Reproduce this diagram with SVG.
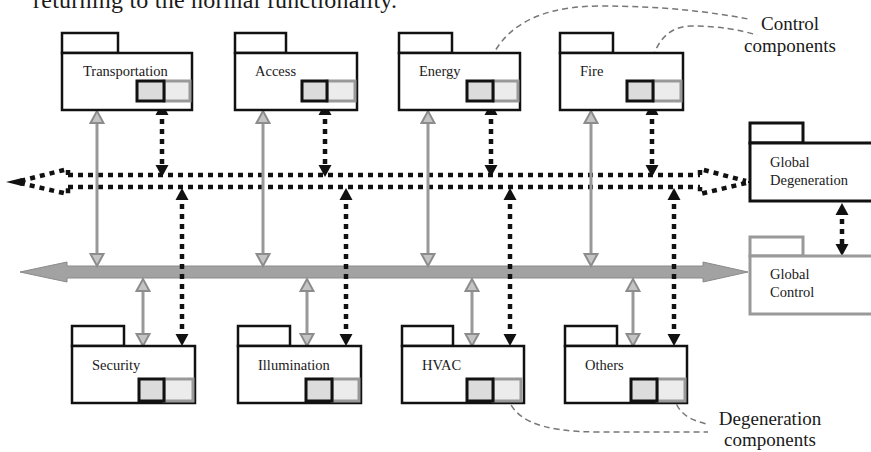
<svg xmlns="http://www.w3.org/2000/svg" width="871" height="452" viewBox="0 0 871 452">
<style>
text{font-family:"Liberation Serif","Times New Roman",serif;fill:#1a1a1a}
.lbl{font-size:14.5px}
.note{font-size:19px}
.tab,.body{fill:#fff;stroke:#111;stroke-width:2.5}
.dk{fill:#dcdcdc;stroke:#111;stroke-width:3}
.gr{fill:#ececec;stroke:#999;stroke-width:3}
.gtab,.gbody{fill:#fff;stroke:#999;stroke-width:3}
.dot{fill:none;stroke:#111;stroke-width:4.5;stroke-dasharray:5 5}
.garr{fill:none;stroke:#999;stroke-width:3}
.lead{fill:none;stroke:#777;stroke-width:1.5;stroke-dasharray:6 4}
</style>
<defs>
<marker id="bh" markerUnits="userSpaceOnUse" markerWidth="14" markerHeight="14" refX="6" refY="6.5" orient="auto-start-reverse" viewBox="0 0 14 13">
<path d="M0,0 L12,6.5 L0,13 Z" fill="#111"/>
</marker>
<marker id="gh" markerUnits="userSpaceOnUse" markerWidth="16" markerHeight="16" refX="1" refY="6.5" orient="auto-start-reverse" viewBox="-1 -1 16 15">
<path d="M0,0 L12,6.5 L0,13 Z" fill="#c4c4c4" stroke="#8c8c8c" stroke-width="2"/>
</marker>
</defs>

<text x="33" y="8" font-size="24" textLength="364">returning to the normal functionality.</text>

<g id="buses">
<path id="gray-bus" d="M20,272 L67,262 L67,266 L703,266 L703,262 L748,272 L703,282 L703,278 L67,278 L67,282 Z" fill="#a2a2a2" stroke="#8a8a8a" stroke-width="1"/>
<g id="dashed-bus">
<line class="dot" x1="68" y1="175" x2="700" y2="175"/>
<line class="dot" x1="68" y1="187" x2="700" y2="187"/>
<path class="dot" d="M68,175 L68,169 L20,181"/>
<path class="dot" d="M20,183 L68,194 L68,187"/>
<polygon points="6,182 22,178 22,186" fill="#111"/>
<path class="dot" d="M700,175 L700,169 L746,181"/>
<path class="dot" d="M746,183 L700,194 L700,187"/>
<line x1="748" y1="182" x2="762" y2="182" stroke="#111" stroke-width="2"/>
</g>
</g>

<g id="connectors">
<line class="garr" x1="97" y1="122" x2="97" y2="255" marker-start="url(#gh)" marker-end="url(#gh)"/>
<line class="garr" x1="263" y1="122" x2="263" y2="255" marker-start="url(#gh)" marker-end="url(#gh)"/>
<line class="garr" x1="428" y1="122" x2="428" y2="255" marker-start="url(#gh)" marker-end="url(#gh)"/>
<line class="garr" x1="591" y1="122" x2="591" y2="255" marker-start="url(#gh)" marker-end="url(#gh)"/>
<line class="garr" x1="143" y1="290" x2="143" y2="335" marker-start="url(#gh)" marker-end="url(#gh)"/>
<line class="garr" x1="307" y1="290" x2="307" y2="335" marker-start="url(#gh)" marker-end="url(#gh)"/>
<line class="garr" x1="472" y1="290" x2="472" y2="335" marker-start="url(#gh)" marker-end="url(#gh)"/>
<line class="garr" x1="633" y1="290" x2="633" y2="335" marker-start="url(#gh)" marker-end="url(#gh)"/>

<line class="dot" x1="162" y1="109" x2="162" y2="171" marker-start="url(#bh)" marker-end="url(#bh)"/>
<line class="dot" x1="325" y1="109" x2="325" y2="171" marker-start="url(#bh)" marker-end="url(#bh)"/>
<line class="dot" x1="491" y1="109" x2="491" y2="171" marker-start="url(#bh)" marker-end="url(#bh)"/>
<line class="dot" x1="652" y1="109" x2="652" y2="171" marker-start="url(#bh)" marker-end="url(#bh)"/>
<line class="dot" x1="182" y1="194" x2="182" y2="340" marker-start="url(#bh)" marker-end="url(#bh)"/>
<line class="dot" x1="346" y1="194" x2="346" y2="340" marker-start="url(#bh)" marker-end="url(#bh)"/>
<line class="dot" x1="510" y1="194" x2="510" y2="340" marker-start="url(#bh)" marker-end="url(#bh)"/>
<line class="dot" x1="674" y1="194" x2="674" y2="340" marker-start="url(#bh)" marker-end="url(#bh)"/>
<line class="dot" x1="842" y1="209" x2="842" y2="250" marker-start="url(#bh)" marker-end="url(#bh)"/>

<path class="lead" d="M482,97 C486,35 528,6 600,6 C662,6 712,12 748,19"/>
<path class="lead" d="M647,97 C648,55 660,27 690,26 C720,26 740,30 757,35"/>
<path class="lead" d="M506,386 C507,420 540,432 600,432 L708,432"/>
<path class="lead" d="M673,385 C673,405 680,418 707,424"/>
</g>

<g id="transportation">
<rect class="tab" x="62" y="33" width="56" height="20"/>
<rect class="body" x="62" y="53" width="130" height="57"/>
<text class="lbl" x="83" y="76">Transportation</text>
<rect class="gr" x="164" y="81" width="26" height="20"/>
<rect class="dk" x="137" y="81" width="27" height="20"/>
</g>
<g id="access">
<rect class="tab" x="235" y="33" width="51" height="20"/>
<rect class="body" x="235" y="53" width="122" height="57"/>
<text class="lbl" x="255" y="76">Access</text>
<rect class="gr" x="327" y="81" width="28" height="20"/>
<rect class="dk" x="302" y="81" width="25" height="20"/>
</g>
<g id="energy">
<rect class="tab" x="399" y="33" width="53" height="20"/>
<rect class="body" x="399" y="53" width="121" height="57"/>
<text class="lbl" x="419" y="76">Energy</text>
<rect class="gr" x="493" y="81" width="25" height="20"/>
<rect class="dk" x="467" y="81" width="26" height="20"/>
</g>
<g id="fire">
<rect class="tab" x="560" y="33" width="53" height="20"/>
<rect class="body" x="560" y="53" width="123" height="57"/>
<text class="lbl" x="580" y="76">Fire</text>
<rect class="gr" x="653" y="81" width="28" height="20"/>
<rect class="dk" x="627" y="81" width="26" height="20"/>
</g>

<g id="security">
<rect class="tab" x="72" y="326" width="52" height="20"/>
<rect class="body" x="72" y="346" width="123" height="57"/>
<text class="lbl" x="92" y="370">Security</text>
<rect class="gr" x="164" y="379" width="29" height="22"/>
<rect class="dk" x="139" y="379" width="25" height="22"/>
</g>
<g id="illumination">
<rect class="tab" x="238" y="326" width="52" height="20"/>
<rect class="body" x="238" y="346" width="123" height="57"/>
<text class="lbl" x="258" y="370">Illumination</text>
<rect class="gr" x="332" y="379" width="27" height="22"/>
<rect class="dk" x="306" y="379" width="26" height="22"/>
</g>
<g id="hvac">
<rect class="tab" x="402" y="326" width="51" height="20"/>
<rect class="body" x="402" y="346" width="122" height="57"/>
<text class="lbl" x="422" y="370">HVAC</text>
<rect class="gr" x="493" y="379" width="28" height="22"/>
<rect class="dk" x="467" y="379" width="26" height="22"/>
</g>
<g id="others">
<rect class="tab" x="565" y="326" width="52" height="20"/>
<rect class="body" x="565" y="346" width="122" height="57"/>
<text class="lbl" x="585" y="370">Others</text>
<rect class="gr" x="657" y="379" width="28" height="22"/>
<rect class="dk" x="631" y="379" width="26" height="22"/>
</g>

<g id="global-degeneration">
<rect class="tab" x="750" y="123" width="53" height="20" style="stroke-width:3"/>
<rect class="body" x="750" y="143" width="125" height="58" style="stroke-width:3"/>
<text class="lbl" x="770" y="167">Global</text>
<text class="lbl" x="770" y="185">Degeneration</text>
</g>
<g id="global-control">
<rect class="gtab" x="750" y="237" width="53" height="19"/>
<rect class="gbody" x="750" y="256" width="125" height="58"/>
<text class="lbl" x="770" y="279">Global</text>
<text class="lbl" x="770" y="297">Control</text>
</g>

<g id="notes">
<text class="note" x="790" y="30" text-anchor="middle">Control</text>
<text class="note" x="790" y="52" text-anchor="middle">components</text>
<text class="note" x="770" y="425" text-anchor="middle" font-size="19.5">Degeneration</text>
<text class="note" x="770" y="446" text-anchor="middle" font-size="19.5">components</text>
</g>
</svg>
